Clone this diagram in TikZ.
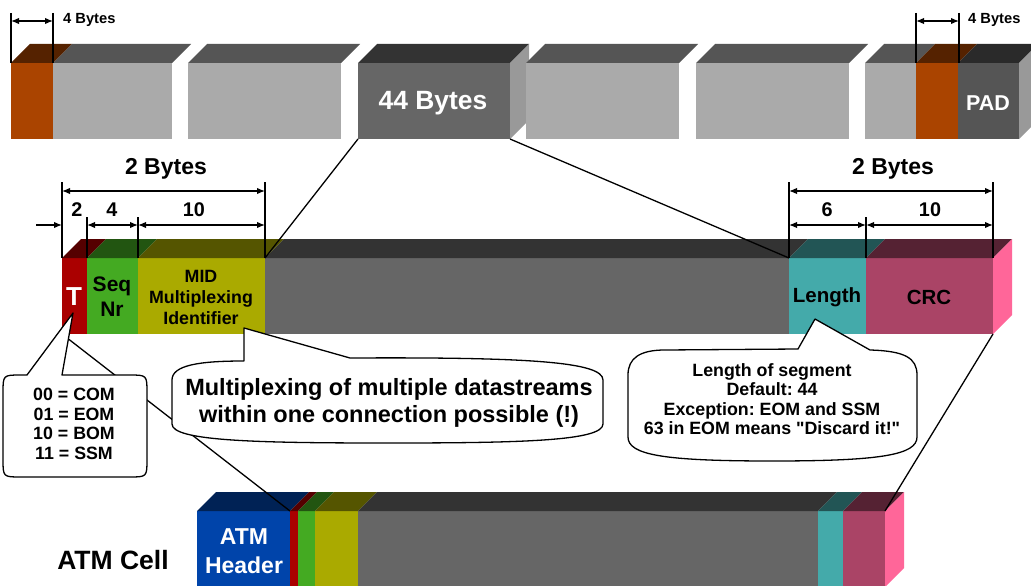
\documentclass[tikz,border=0pt]{standalone}
\usepackage{fontspec}
\setmainfont{Liberation Sans}
% same face without the TeX character mapping, for straight quotes
\newfontfamily\plainsans{Liberation Sans}
\usetikzlibrary{arrows.meta}
\frenchspacing

% face colours
\definecolor{orng}{HTML}{AA4400}   \definecolor{orngtop}{HTML}{552200}
\definecolor{lgray}{HTML}{AAAAAA}  \definecolor{lgraytop}{HTML}{555555}
\definecolor{dgray}{HTML}{666666}  \definecolor{dgraytop}{HTML}{333333}
\definecolor{dgrayside}{HTML}{999999}
\definecolor{padc}{HTML}{555555}   \definecolor{padtop}{HTML}{2A2A2A}
\definecolor{tred}{HTML}{AA0000}   \definecolor{tredtop}{HTML}{550000}
\definecolor{sgreen}{HTML}{44AA22} \definecolor{sgreentop}{HTML}{225511}
\definecolor{olive}{HTML}{AAAA00}  \definecolor{olivetop}{HTML}{555500}
\definecolor{teal}{HTML}{44AAAA}   \definecolor{tealtop}{HTML}{225555}
\definecolor{crc}{HTML}{AA4466}    \definecolor{crctop}{HTML}{552233}
\definecolor{pinkside}{HTML}{FF6699}
\definecolor{atmblue}{HTML}{0044AA}\definecolor{atmbluetop}{HTML}{002255}

% one block of a bar: front face and its top face, depth 19
% #1,#2 = left/right x, #3,#4 = top/bottom y, #5 = front colour, #6 = top colour
\newcommand\drawslab[6]{%
  \fill[#5] (#1,#3) rectangle (#2,#4);
  \fill[#6] (#1,#3) -- ({#1+19},{#3-19}) -- ({#2+19},{#3-19}) -- (#2,#3) -- cycle;}
% right side face of a bar
\newcommand\drawside[4]{%
  \fill[#4] (#1,#2) -- ({#1+19},{#2-19}) -- ({#1+19},{#3-19}) -- (#1,#3) -- cycle;}

\begin{document}
\begin{tikzpicture}[x=1pt,y=-1pt,
  every node/.style={font=\bfseries, inner sep=0pt},
  small/.style={font=\fontsize{14.7}{17}\selectfont\bfseries},
  bytes/.style={font=\fontsize{23}{26}\selectfont\bfseries},
  bits/.style={font=\fontsize{19.8}{22}\selectfont\bfseries},
  extline/.style={line width=1.4pt},
  dimarrow/.style={line width=1.4pt, {Latex[length=8pt,width=6.5pt]}-{Latex[length=8pt,width=6.5pt]}},
  dimin/.style={line width=1.4pt, -{Latex[length=8pt,width=6.5pt]}},
  link/.style={line width=1.3pt},
  callout/.style={fill=white, draw=black, line width=1.3pt, line join=round},
  ctext/.style={align=center, font=\fontsize{17.8}{19.5}\selectfont\bfseries}]

\clip (0,0) rectangle (1031,586);
\fill[white] (0,0) rectangle (1031,586);

% ---------------- frame of 44-byte segments ----------------
\drawslab{11}{53}{63}{139}{orng}{orngtop}
\drawslab{53}{172}{63}{139}{lgray}{lgraytop}
\drawslab{188}{341}{63}{139}{lgray}{lgraytop}
\drawslab{358}{510}{63}{139}{dgray}{dgraytop}
\drawside{510}{63}{139}{dgrayside}
\drawslab{526}{679}{63}{139}{lgray}{lgraytop}
\drawslab{696}{849}{63}{139}{lgray}{lgraytop}
\drawslab{865}{916}{63}{139}{lgray}{lgraytop}
\drawslab{916}{958}{63}{139}{orng}{orngtop}
\drawslab{958}{1019}{63}{139}{padc}{padtop}
\drawside{1019}{63}{139}{dgrayside}

\node[text=white, font=\fontsize{26.4}{30}\selectfont\bfseries] (seg44) at (433,103) {44 Bytes};
\node[text=white, font=\fontsize{21.5}{24}\selectfont\bfseries] (pad) at (988,103) {PAD};

\coordinate (s44bl) at (358,139);
\coordinate (s44br) at (510,139);

% header / trailer width marks
\coordinate (hl1) at (11,13);  \coordinate (hl1b) at (11,63);
\coordinate (hl2) at (53,13);  \coordinate (hl2b) at (53,63);
\draw[extline] (hl1) -- (hl1b);
\draw[extline] (hl2) -- (hl2b);
\draw[dimarrow] (11,21) coordinate (ha1) -- (53,21) coordinate (ha2);
\node[small, anchor=west] (hlab) at (63,20) {4 Bytes};

\coordinate (tl1) at (916,13); \coordinate (tl1b) at (916,63);
\coordinate (tl2) at (959,13); \coordinate (tl2b) at (959,63);
\draw[extline] (tl1) -- (tl1b);
\draw[extline] (tl2) -- (tl2b);
\draw[dimarrow] (916,21) coordinate (ta1) -- (959,21) coordinate (ta2);
\node[small, anchor=west] (tlab) at (968,20) {4 Bytes};

% ---------------- SAR-PDU ----------------
\drawslab{62}{87}{258}{334}{tred}{tredtop}
\drawslab{87}{138}{258}{334}{sgreen}{sgreentop}
\drawslab{138}{265}{258}{334}{olive}{olivetop}
\drawslab{265}{789}{258}{334}{dgray}{dgraytop}
\drawslab{789}{866}{258}{334}{teal}{tealtop}
\drawslab{866}{993}{258}{334}{crc}{crctop}
\drawside{993}{258}{334}{pinkside}

\coordinate (pTbl) at (62,334);
\coordinate (pMIDtr) at (265,258);
\coordinate (pLentl) at (789,258);
\coordinate (pCRCbr) at (993,334);

\node[text=white, font=\fontsize{26}{28}\selectfont\bfseries] (tf) at (74,297) {T};
\node[align=center, font=\fontsize{21}{25}\selectfont\bfseries] (seq) at (112,297) {Seq\\Nr};
\node[align=center, font=\fontsize{17.8}{21}\selectfont\bfseries] (mid) at (201,297) {MID\\Multiplexing\\Identifier};
\node[font=\fontsize{20.5}{22}\selectfont\bfseries] (len) at (827,297) {Length};
\node[font=\fontsize{20.5}{22}\selectfont\bfseries] (crcl) at (929,297) {CRC};

% header field widths
\draw[extline] (62,182) -- (62,258);
\draw[extline] (265,182) -- (265,258);
\draw[extline] (87,217) -- (87,258);
\draw[extline] (138,217) -- (138,258);
\draw[dimarrow] (62,191) -- (265,191);
\node[bytes] (hb) at (166,169) {2 Bytes};
\draw[dimin] (36,225) -- (62,225);
\draw[dimarrow] (87,225) -- (138,225);
\draw[dimarrow] (138,225) -- (265,225);
\node[bits] (b2) at (77,210) {2};
\node[bits] (b4) at (112,210) {4};
\node[bits] (b10) at (194,210) {10};

% trailer field widths
\draw[extline] (789,182) -- (789,258);
\draw[extline] (993,182) -- (993,258);
\draw[extline] (866,217) -- (866,258);
\draw[dimarrow] (789,191) -- (993,191);
\node[bytes] (tb) at (893,169) {2 Bytes};
\draw[dimarrow] (789,225) -- (866,225);
\draw[dimarrow] (866,225) -- (993,225);
\node[bits] (b6) at (827,210) {6};
\node[bits] (b10b) at (930,210) {10};

% segment to SAR-PDU
\draw[link] (s44bl) -- (pMIDtr);
\draw[link] (s44br) -- (pLentl);

% ---------------- ATM cell ----------------
\drawslab{197}{290}{511}{600}{atmblue}{atmbluetop}
\drawslab{290}{298}{511}{600}{tred}{tredtop}
\drawslab{298}{315}{511}{600}{sgreen}{sgreentop}
\drawslab{315}{358}{511}{600}{olive}{olivetop}
\drawslab{358}{818}{511}{600}{dgray}{dgraytop}
\drawslab{818}{843}{511}{600}{teal}{tealtop}
\drawslab{843}{885}{511}{600}{crc}{crctop}
\drawside{885}{511}{587}{pinkside}

\coordinate (cTtl) at (290,511);
\coordinate (cCRCtr) at (885,511);

\node[text=white, align=center, font=\fontsize{23}{29}\selectfont\bfseries] (hdr) at (244,551) {ATM\\Header};
\node[font=\fontsize{26.5}{30}\selectfont\bfseries] (cell) at (113,560) {ATM Cell};

% SAR-PDU to ATM cell
\draw[link] (pTbl) -- (cTtl);
\draw[link] (pCRCbr) -- (cCRCtr);

% ---------------- callouts ----------------
\coordinate (tipT) at (73,313);
\draw[callout] (62,375) -- (129,375) .. controls (147,375) .. (147,393)
  -- (147,459) .. controls (147,477) .. (129,477)
  -- (21,477) .. controls (3,477) .. (3,459)
  -- (3,393) .. controls (3,375) .. (21,375)
  -- (27,375) -- (tipT) -- cycle;
\node[ctext] (tcodes) at (74,424) {00 = COM\\01 = EOM\\10 = BOM\\11 = SSM};

\coordinate (tipM) at (244,328);
\draw[callout] (244,361) -- (tipM) -- (350,358)
  .. controls (530,357) and (603,362) .. (603,380)
  -- (603,424) .. controls (603,441) and (520,443) .. (388,443)
  .. controls (256,443) and (172,441) .. (172,424)
  -- (172,380) .. controls (172,365) and (200,361) .. (244,361) -- cycle;
\node[align=center, font=\fontsize{23.5}{27}\selectfont\bfseries] (mux) at (389,403)
  {Multiplexing of multiple datastreams\\within one connection possible (!)};

\coordinate (tipL) at (815,319);
\draw[callout] (798,349) -- (tipL) -- (870,350)
  .. controls (905,351) and (917,358) .. (917,375)
  -- (917,437) .. controls (917,455) and (880,461) .. (772,461)
  .. controls (664,461) and (628,455) .. (628,437)
  -- (628,375) .. controls (628,358) and (640,350) .. (665,350) -- cycle;
\node[ctext] (lnote) at (772,399)
  {Length of segment\\Default: 44\\Exception: EOM and SSM\\63 in EOM means {\plainsans\bfseries"}Discard it!{\plainsans\bfseries"}};

\end{tikzpicture}
\end{document}
